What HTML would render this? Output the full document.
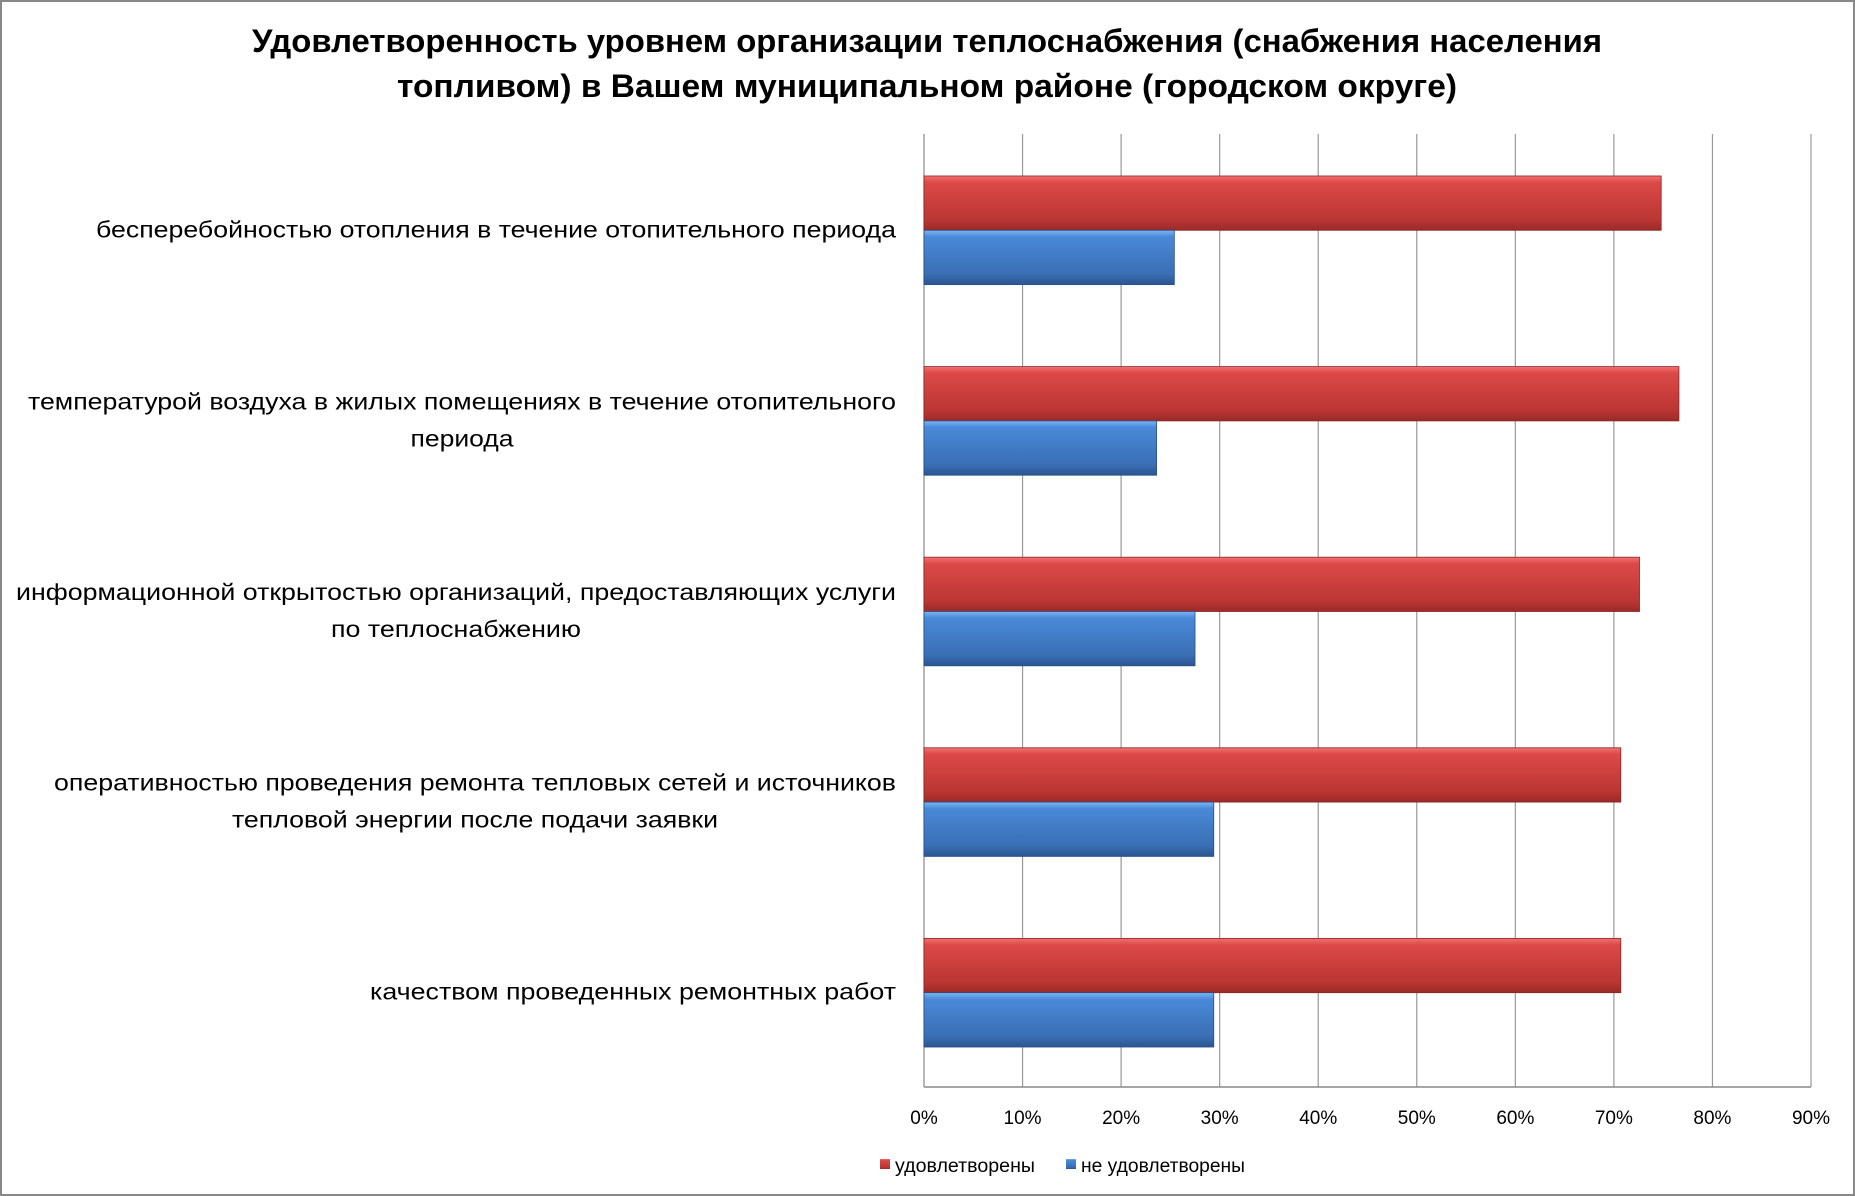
<!DOCTYPE html>
<html><head><meta charset="utf-8"><style>
html,body{margin:0;padding:0;background:#fff}
svg{display:block;font-family:"Liberation Sans Narrow","Liberation Sans",sans-serif}
</style></head><body>
<svg id="chart" width="1855" height="1196" viewBox="0 0 1855 1196">
<defs>
<linearGradient id="gr" x1="0" y1="0" x2="0" y2="1">
<stop offset="0" stop-color="#f27070"/><stop offset="0.12" stop-color="#dc4a48"/><stop offset="0.8" stop-color="#bb3634"/><stop offset="1" stop-color="#9a2a28"/></linearGradient>
<linearGradient id="gb" x1="0" y1="0" x2="0" y2="1">
<stop offset="0" stop-color="#7bb6f2"/><stop offset="0.12" stop-color="#4a89d8"/><stop offset="0.8" stop-color="#3a6fb4"/><stop offset="1" stop-color="#2b5590"/></linearGradient>
</defs>
<rect x="1" y="1" width="1853" height="1194" fill="#fff" stroke="#888" stroke-width="2"/>
<g>
<text x="927" y="52" text-anchor="middle" font-weight="bold" font-size="32" textLength="1350" lengthAdjust="spacingAndGlyphs">Удовлетворенность уровнем организации теплоснабжения (снабжения населения</text>
<text x="927" y="97" text-anchor="middle" font-weight="bold" font-size="32" textLength="1060" lengthAdjust="spacingAndGlyphs">топливом) в Вашем муниципальном районе (городском округе)</text>
</g>
<g id="grid"></g><g id="bars"></g><g id="labels"></g><g id="ticks"></g>
<g>
<rect x="880" y="1159" width="10" height="10" fill="url(#gr)"/>
<text x="895" y="1172" font-size="19" textLength="140" lengthAdjust="spacingAndGlyphs">удовлетворены</text>
<rect x="1066" y="1159" width="10" height="10" fill="url(#gb)"/>
<text x="1081" y="1172" font-size="19" textLength="164" lengthAdjust="spacingAndGlyphs">не удовлетворены</text>
</g>
</svg>
<script>
const categories=[
["бесперебойностью  отопления в течение отопительного периода"],
["температурой  воздуха в жилых помещениях в течение отопительного","периода"],
["информационной открытостью организаций, предоставляющих услуги","по теплоснабжению"],
["оперативностью проведения ремонта тепловых сетей и источников","тепловой энергии после подачи заявки"],
["качеством проведенных ремонтных работ"]];
const satisfied=[74.8,76.6,72.6,70.7,70.7];
const unsatisfied=[25.4,23.6,27.5,29.4,29.4];
const tickValues=[0,10,20,30,40,50,60,70,80,90];
const labelWidths=[[800],[868,103],[880,250],[842,486],[526]];
const NS="http://www.w3.org/2000/svg";
const X0=924,X1=1811,Y0=134,Y1=1087,MAX=90;
const x=v=>X0+(X1-X0)*v/MAX;
const band=(Y1-Y0)/categories.length;
function mk(t,a,p){const e=document.createElementNS(NS,t);for(const k in a)e.setAttribute(k,a[k]);p.appendChild(e);return e;}
const grid=document.getElementById('grid'),bars=document.getElementById('bars'),labels=document.getElementById('labels'),ticks=document.getElementById('ticks');
tickValues.forEach(v=>{
const l=mk('line',{x1:x(v),x2:x(v),y1:Y0,y2:Y1,stroke:v===0?'#888':'#999','stroke-width':1.2},grid);


const t=mk('text',{x:x(v),y:1124,'text-anchor':'middle','font-size':19},ticks);
t.textContent=v+'%';


});
const ax=mk('line',{x1:X0,x2:X1,y1:Y1,y2:Y1,stroke:'#888','stroke-width':1.5},grid);


const bh=band*0.285;
categories.forEach((c,i)=>{
const cy=Y0+band*(i+0.5)+1;
const r=mk('rect',{x:X0,y:cy-bh,width:x(satisfied[i])-X0,height:bh,fill:'url(#gr)',stroke:'#8a2624','stroke-width':0.8},bars);


const b=mk('rect',{x:X0,y:cy,width:x(unsatisfied[i])-X0,height:bh,fill:'url(#gb)',stroke:'#28508a','stroke-width':0.8},bars);


const n=c.length,lh=37;
c.forEach((s,j)=>{
const t=mk('text',{x:896,y:cy+7+(j-(n-1)/2)*lh,'text-anchor':'end','font-size':23,textLength:labelWidths[i][j],lengthAdjust:'spacingAndGlyphs'},labels);
t.textContent=s;


if(j>0){t.setAttribute('text-anchor','middle');t.setAttribute('x',896-labelWidths[i][0]/2);}
});
});
</script>
</body></html>
